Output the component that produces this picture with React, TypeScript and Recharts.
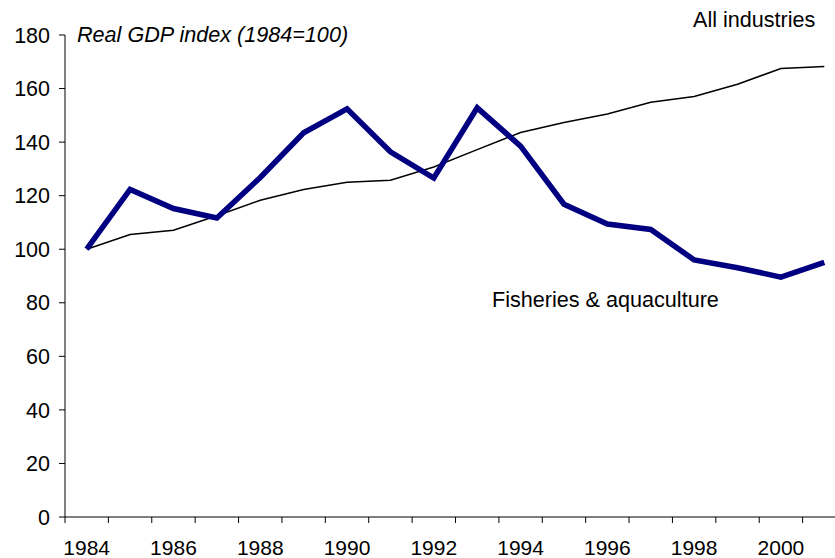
import { LineChart, Line, XAxis, YAxis, Customized } from 'recharts';

const years = [1984, 1985, 1986, 1987, 1988, 1989, 1990, 1991, 1992, 1993, 1994, 1995, 1996, 1997, 1998, 1999, 2000, 2001];
const fisheries = [100, 122.3, 115.2, 111.7, 126.8, 143.5, 152.4, 136.4, 126.6, 152.8, 138.5, 116.8, 109.4, 107.4, 96, 93.1, 89.6, 95.1];
const allIndustries = [100, 105.5, 107.1, 112.5, 118.3, 122.3, 125, 125.8, 130.7, 137.2, 143.6, 147.3, 150.5, 154.9, 157, 161.6, 167.5, 168.2];
const yTicks = [0, 20, 40, 60, 80, 100, 120, 140, 160, 180];

const data = years.map((year, i) => ({
  year,
  fisheries: fisheries[i],
  all: allIndustries[i],
}));

// ticks sit on the category boundaries, labels in between
const xTicks = years.map((y) => y - 0.5);

const FONT = '"Liberation Sans", Arial, sans-serif';
const PLOT_LEFT = 65;
const PLOT_W = 781;
const PLOT_BOTTOM = 517;
const BAND = PLOT_W / years.length;

const XTick = (props: any) => {
  const { x, payload } = props;
  const year = payload.value + 0.5;
  return (
    <g>
      <line x1={x} y1={PLOT_BOTTOM} x2={x} y2={PLOT_BOTTOM + 6} stroke="#000" strokeWidth={1} />
      {year % 2 === 0 && year <= 2000 && (
        <text x={x + BAND / 2} y={555} textAnchor="middle" fontSize={21} fill="#000" fontFamily={FONT}>
          {year}
        </text>
      )}
    </g>
  );
};

const Notes = () => (
  <g fontFamily={FONT} fontSize={21.6} fill="#000">
    <text x={77} y={42} fontStyle="italic">Real GDP index (1984=100)</text>
    <text x={693} y={27}>All industries</text>
    <text x={492} y={307}>Fisheries &amp; aquaculture</text>
  </g>
);

export default function App() {
  return (
    <div style={{ position: 'absolute', left: 0, top: 0, width: 835, height: 558, overflow: 'hidden', background: '#fff' }}>
      <LineChart
        width={PLOT_LEFT + PLOT_W}
        height={558}
        data={data}
        margin={{ top: 35, right: 0, bottom: 0, left: 0 }}
        style={{ fontFamily: FONT }}
      >
        <XAxis
          dataKey="year"
          type="number"
          domain={[1983.5, 2001.5]}
          ticks={xTicks}
          interval={0}
          height={41}
          axisLine={{ stroke: '#000', strokeWidth: 1 }}
          tickLine={false}
          tick={<XTick />}
        />
        <YAxis
          domain={[0, 180]}
          ticks={yTicks}
          interval={0}
          width={PLOT_LEFT}
          axisLine={{ stroke: '#000', strokeWidth: 1 }}
          tickLine={{ stroke: '#000', strokeWidth: 1 }}
          tickSize={6}
          tickMargin={9}
          tick={{ fontSize: 21.5, fill: '#000', fontFamily: FONT }}
        />
        <Line
          type="linear"
          dataKey="all"
          stroke="#000"
          strokeWidth={1.5}
          dot={false}
          isAnimationActive={false}
        />
        <Line
          type="linear"
          dataKey="fisheries"
          stroke="#000080"
          strokeWidth={5.5}
          dot={false}
          isAnimationActive={false}
        />
        <Customized component={Notes} />
      </LineChart>
    </div>
  );
}
